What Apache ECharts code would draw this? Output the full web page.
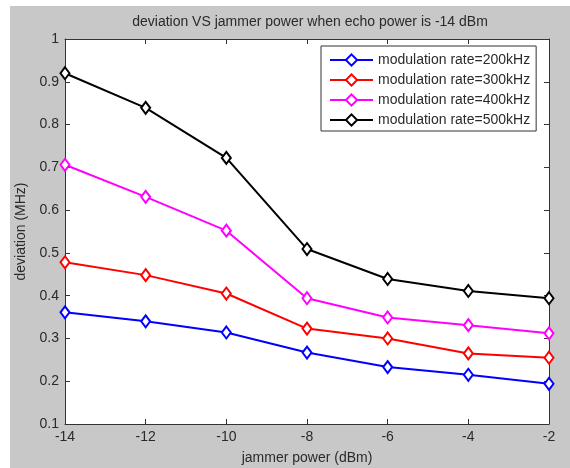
<!DOCTYPE html>
<html><head><meta charset="utf-8">
<script src="https://cdn.jsdelivr.net/npm/echarts@6/dist/echarts.min.js"></script>
<style>
html,body{margin:0;padding:0;background:#fff;}
#c{position:absolute;left:10px;top:6px;width:560px;height:462px;}
</style></head>
<body><div id="c"></div>
<script>
const xValues = [-14, -12, -10, -8, -6, -4, -2];
const rate200 = [0.361, 0.340, 0.314, 0.267, 0.233, 0.215, 0.194];
const rate300 = [0.478, 0.448, 0.405, 0.323, 0.300, 0.265, 0.255];
const rate400 = [0.706, 0.631, 0.552, 0.394, 0.349, 0.331, 0.312];
const rate500 = [0.920, 0.839, 0.722, 0.509, 0.439, 0.411, 0.394];
const seriesNames = ['modulation rate=200kHz','modulation rate=300kHz','modulation rate=400kHz','modulation rate=500kHz'];
const seriesColors = ['#0000ff','#ff0000','#ff00ff','#000000'];
const seriesData = [rate200, rate300, rate400, rate500];

const font = 'Liberation Sans, Arial, sans-serif';
const fs = 14;
const txt = '#2a2a2a';
const chart = echarts.init(document.getElementById('c'));
const axisCommon = {
  axisLine:{show:true,onZero:false,lineStyle:{color:'#333',width:1}},
  axisTick:{show:true,inside:true,length:5,lineStyle:{color:'#333'}},
  splitLine:{show:false}
};
chart.setOption({
  backgroundColor:'#c8c8c8',
  animation:false,
  textStyle:{fontFamily:font},
  title:{text:'deviation VS jammer power when echo power is -14 dBm',left:295,textAlign:'center',top:4,
    textStyle:{fontSize:fs,fontWeight:'normal',color:txt,fontFamily:font}},
  grid:{left:55,right:21,top:33,bottom:44,show:true,backgroundColor:'#fff',borderWidth:0,
    containLabel:false,outerBoundsMode:'none'},
  legend:{orient:'vertical',left:311,top:40,
    backgroundColor:'#fff',borderColor:'#333',borderWidth:1,
    padding:[7,6,4,8],itemGap:6,itemWidth:43,itemHeight:14,
    textStyle:{fontSize:fs,color:txt,fontFamily:font},
    data:seriesNames},
  xAxis:[
    Object.assign({type:'value',min:-14,max:-2,interval:2,position:'bottom',
      name:'jammer power (dBm)',nameLocation:'middle',nameGap:27,
      nameTextStyle:{fontSize:fs,color:txt,fontFamily:font},
      axisLabel:{fontSize:fs,color:txt,margin:6,fontFamily:font}},axisCommon),
    Object.assign({type:'value',min:-14,max:-2,interval:2,position:'top',axisLabel:{show:false}},axisCommon)
  ],
  yAxis:[
    Object.assign({type:'value',min:0.1,max:1,interval:0.1,position:'left',
      name:'deviation (MHz)',nameLocation:'middle',nameGap:34,
      nameTextStyle:{fontSize:fs,color:txt,fontFamily:font},
      axisLabel:{fontSize:fs,color:txt,margin:6,fontFamily:font,
        formatter:v=>{const r=Math.round(v*10)/10; return r===1?'1':String(r);}}},axisCommon),
    Object.assign({type:'value',min:0.1,max:1,interval:0.1,position:'right',axisLabel:{show:false}},axisCommon)
  ],
  series: seriesNames.map((n,i)=>({
    name:n,type:'line',xAxisIndex:0,yAxisIndex:0,
    data:xValues.map((x,j)=>[x,seriesData[i][j]]),
    symbol:'diamond',symbolSize:[9,12],showSymbol:true,
    itemStyle:{color:'#fff',borderColor:seriesColors[i],borderWidth:2},
    lineStyle:{color:seriesColors[i],width:2},
    color:seriesColors[i]
  }))
});
</script></body></html>
